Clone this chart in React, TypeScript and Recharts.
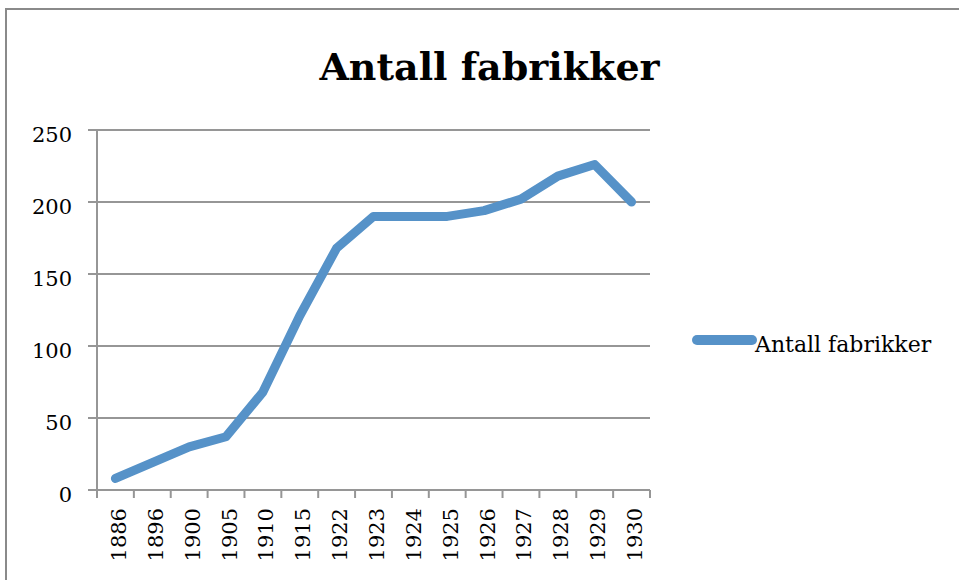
import { CartesianGrid, Legend, Line, LineChart, XAxis, YAxis } from "recharts";

const years = [
  "1886", "1896", "1900", "1905", "1910", "1915", "1922", "1923",
  "1924", "1925", "1926", "1927", "1928", "1929", "1930",
];
const counts = [8, 19, 30, 37, 68, 121, 168, 190, 190, 190, 194, 202, 218, 226, 200];
const yTicks = [0, 50, 100, 150, 200, 250];
const seriesName = "Antall fabrikker";

const data = years.map((year, i) => ({ year, value: counts[i] }));

const FONT = "'DejaVu Serif', serif";
const GRID = "#969696";
const BLUE = "#5692c8";
const PLOT_LEFT = 97;
const PLOT_RIGHT = 650;
const HALF_BAND = (PLOT_RIGHT - PLOT_LEFT) / years.length / 2;

function XTick(props: any) {
  const { x, y, payload, index } = props;
  const last = index === years.length - 1;
  return (
    <g>
      <line x1={x - HALF_BAND} x2={x - HALF_BAND} y1={y} y2={y + 8} stroke={GRID} strokeWidth={2} />
      {last && (
        <line x1={x + HALF_BAND} x2={x + HALF_BAND} y1={y} y2={y + 8} stroke={GRID} strokeWidth={2} />
      )}
      <text
        x={x + 10.5}
        y={y + 18}
        transform={`rotate(-90, ${x + 10.5}, ${y + 18})`}
        textAnchor="end"
        fontFamily={FONT}
        fontSize={21}
        fill="#000"
      >
        {payload.value}
      </text>
    </g>
  );
}

function YTick(props: any) {
  const { x, y, payload } = props;
  return (
    <text x={x} y={y} dy={12} textAnchor="end" fontFamily={FONT} fontSize={21} fill="#000">
      {payload.value}
    </text>
  );
}

function LegendBox() {
  return (
    <svg width={260} height={34}>
      <line x1={7} x2={62} y1={15} y2={15} stroke={BLUE} strokeWidth={10} strokeLinecap="round" />
      <text x={65} y={27} fontFamily={FONT} fontSize={22} fill="#000">
        {seriesName}
      </text>
    </svg>
  );
}

export default function App() {
  return (
    <div style={{ position: "fixed", left: 0, top: 0, width: 959, height: 580, overflow: "hidden", background: "#fff" }}>
      {/* outer chart frame, only top and left edges are in view */}
      <div style={{ position: "absolute", left: 5, top: 8, width: 954, height: 2, background: "#8a8a8a" }} />
      <div style={{ position: "absolute", left: 5, top: 8, width: 2, height: 572, background: "#8a8a8a" }} />
      <svg width={959} height={100} style={{ position: "absolute", left: 0, top: 0 }}>
        <text x={489.5} y={80} textAnchor="middle" fontFamily={FONT} fontWeight="bold" fontSize={38} fill="#000">
          {seriesName}
        </text>
      </svg>
      <div style={{ position: "absolute", left: 0, top: 0 }}>
        <LineChart width={959} height={580} data={data} margin={{ top: 130, right: 959 - PLOT_RIGHT, bottom: 0, left: 0 }}>
          <CartesianGrid vertical={false} stroke={GRID} strokeWidth={2} />
          <XAxis
            dataKey="year"
            height={90}
            padding={{ left: HALF_BAND, right: HALF_BAND }}
            interval={0}
            tickLine={false}
            tickSize={0}
            tickMargin={0}
            axisLine={{ stroke: GRID, strokeWidth: 2 }}
            tick={<XTick />}
          />
          <YAxis
            width={PLOT_LEFT}
            domain={[0, 250]}
            ticks={yTicks}
            interval={0}
            tickSize={9}
            tickMargin={16}
            tickLine={{ stroke: GRID, strokeWidth: 2 }}
            axisLine={{ stroke: GRID, strokeWidth: 2 }}
            tick={<YTick />}
          />
          <Legend
            layout="horizontal"
            verticalAlign="middle"
            align="center"
            content={<LegendBox />}
            wrapperStyle={{ left: 690, top: 325, width: 260 }}
          />
          <Line
            type="linear"
            dataKey="value"
            name={seriesName}
            stroke={BLUE}
            strokeWidth={9}
            strokeLinecap="round"
            strokeLinejoin="round"
            dot={false}
            activeDot={false}
            isAnimationActive={false}
          />
        </LineChart>
      </div>
    </div>
  );
}
